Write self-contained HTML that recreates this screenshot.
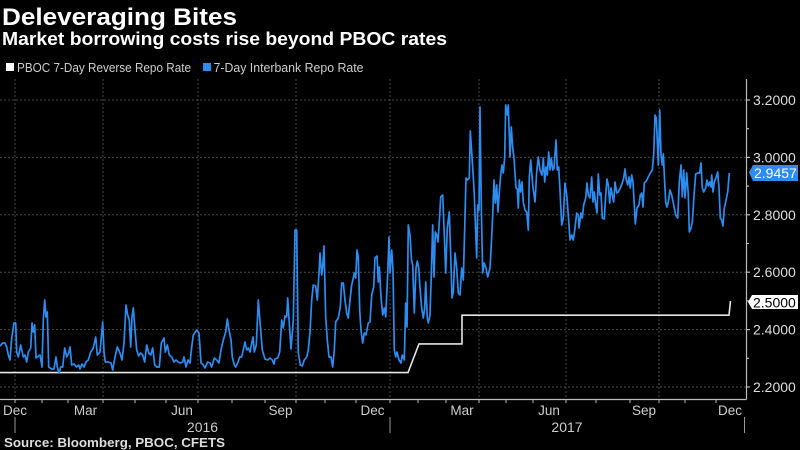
<!DOCTYPE html>
<html>
<head>
<meta charset="utf-8">
<style>
html,body{margin:0;padding:0;background:#000;}
body{width:800px;height:450px;overflow:hidden;}
svg{display:block;}
text{font-family:"Liberation Sans",sans-serif;}
</style>
</head>
<body>
<svg width="800" height="450" viewBox="0 0 800 450" xmlns="http://www.w3.org/2000/svg">
<rect x="0" y="0" width="800" height="450" fill="#000"/>

<!-- Title -->
<text x="2" y="25" font-size="24" font-weight="bold" fill="#fff" textLength="235" lengthAdjust="spacingAndGlyphs">Deleveraging Bites</text>
<text x="2" y="45" font-size="18" font-weight="bold" fill="#fff" textLength="445" lengthAdjust="spacingAndGlyphs">Market borrowing costs rise beyond PBOC rates</text>

<!-- Legend -->
<rect x="6" y="63" width="8" height="8" fill="#fff"/>
<text x="17" y="72" font-size="12.5" fill="#ccc" textLength="174" lengthAdjust="spacingAndGlyphs">PBOC 7-Day Reverse Repo Rate</text>
<rect x="203" y="63" width="8" height="8" fill="#2d8cf0"/>
<text x="213.5" y="72" font-size="12.5" fill="#ccc" textLength="150" lengthAdjust="spacingAndGlyphs">7-Day Interbank Repo Rate</text>

<!-- Horizontal gridlines -->
<g stroke="#4a4a4a" stroke-width="1" stroke-dasharray="2,2">
<line x1="0" y1="100" x2="746" y2="100"/>
<line x1="0" y1="157.4" x2="746" y2="157.4"/>
<line x1="0" y1="214.8" x2="746" y2="214.8"/>
<line x1="0" y1="272.2" x2="746" y2="272.2"/>
<line x1="0" y1="329.6" x2="746" y2="329.6"/>
<line x1="0" y1="387" x2="746" y2="387"/>
</g>
<!-- Vertical gridlines -->
<g stroke="#4a4a4a" stroke-width="1" stroke-dasharray="2,2">
<line x1="15" y1="79" x2="15" y2="399"/>
<line x1="103" y1="79" x2="103" y2="399"/>
<line x1="198" y1="79" x2="198" y2="399"/>
<line x1="296" y1="79" x2="296" y2="399"/>
<line x1="390" y1="79" x2="390" y2="399"/>
<line x1="479" y1="79" x2="479" y2="399"/>
<line x1="566" y1="79" x2="566" y2="399"/>
<line x1="659" y1="79" x2="659" y2="399"/>
</g>

<!-- Axes -->
<g stroke="#bbb" stroke-width="1.2">
<line x1="0" y1="399.5" x2="746.5" y2="399.5"/>
<line x1="746.5" y1="79" x2="746.5" y2="399.5"/>
</g>
<!-- Right axis ticks -->
<g stroke="#bbb" stroke-width="1.2">
<line x1="746" y1="100" x2="750" y2="100"/>
<line x1="746" y1="157.4" x2="750" y2="157.4"/>
<line x1="746" y1="214.8" x2="750" y2="214.8"/>
<line x1="746" y1="272.2" x2="750" y2="272.2"/>
<line x1="746" y1="329.6" x2="750" y2="329.6"/>
<line x1="746" y1="387" x2="750" y2="387"/>
<line x1="746" y1="128.7" x2="749" y2="128.7"/>
<line x1="746" y1="186.1" x2="749" y2="186.1"/>
<line x1="746" y1="243.5" x2="749" y2="243.5"/>
<line x1="746" y1="300.9" x2="749" y2="300.9"/>
<line x1="746" y1="358.3" x2="749" y2="358.3"/>
</g>
<!-- Bottom ticks -->
<g stroke="#bbb" stroke-width="1">
<line x1="15" y1="399.5" x2="15" y2="403"/>
<line x1="42" y1="399.5" x2="42" y2="403"/>
<line x1="68" y1="399.5" x2="68" y2="403"/>
<line x1="103" y1="399.5" x2="103" y2="403"/>
<line x1="135" y1="399.5" x2="135" y2="403"/>
<line x1="166" y1="399.5" x2="166" y2="403"/>
<line x1="198" y1="399.5" x2="198" y2="403"/>
<line x1="232" y1="399.5" x2="232" y2="403"/>
<line x1="265" y1="399.5" x2="265" y2="403"/>
<line x1="296" y1="399.5" x2="296" y2="403"/>
<line x1="325" y1="399.5" x2="325" y2="403"/>
<line x1="356" y1="399.5" x2="356" y2="403"/>
<line x1="390" y1="399.5" x2="390" y2="403"/>
<line x1="418" y1="399.5" x2="418" y2="403"/>
<line x1="446" y1="399.5" x2="446" y2="403"/>
<line x1="479" y1="399.5" x2="479" y2="403"/>
<line x1="506" y1="399.5" x2="506" y2="403"/>
<line x1="533" y1="399.5" x2="533" y2="403"/>
<line x1="566" y1="399.5" x2="566" y2="403"/>
<line x1="596" y1="399.5" x2="596" y2="403"/>
<line x1="630" y1="399.5" x2="630" y2="403"/>
<line x1="659" y1="399.5" x2="659" y2="403"/>
<line x1="685" y1="399.5" x2="685" y2="403"/>
<line x1="716" y1="399.5" x2="716" y2="403"/>
</g>
<!-- Year separators -->
<g stroke="#999" stroke-width="1">
<line x1="15" y1="417" x2="15" y2="433"/>
<line x1="390" y1="417" x2="390" y2="433"/>
<line x1="744.5" y1="417" x2="744.5" y2="433"/>
</g>

<!-- Month labels -->
<g font-size="13.5" fill="#ccc" text-anchor="middle">
<text x="15" y="415">Dec</text>
<text x="85.5" y="415">Mar</text>
<text x="182" y="415">Jun</text>
<text x="280.5" y="415">Sep</text>
<text x="372.5" y="415">Dec</text>
<text x="462" y="415">Mar</text>
<text x="549" y="415">Jun</text>
<text x="644" y="415">Sep</text>
<text x="730" y="415">Dec</text>
</g>
<g font-size="14" fill="#ccc" text-anchor="middle">
<text x="202.5" y="432">2016</text>
<text x="567" y="432">2017</text>
</g>

<!-- Right axis labels -->
<g font-size="14" fill="#ddd">
<text x="753" y="105">3.2000</text>
<text x="753" y="162.4">3.0000</text>
<text x="753" y="219.8">2.8000</text>
<text x="753" y="277.2">2.6000</text>
<text x="753" y="334.6">2.4000</text>
<text x="753" y="392">2.2000</text>
</g>

<!-- PBOC line -->
<polyline fill="none" stroke="#e6e6e6" stroke-width="1.6" stroke-linejoin="miter"
points="0,372.6 408,372.6 419,343.9 462,343.9 462,315.2 729,315.2 730.5,301"/>

<!-- Interbank line -->
<polyline fill="none" stroke="#2d8cf0" stroke-width="1.7" stroke-linejoin="round"
points="0,346 2.7,343 5,343 6.7,347 8.3,355 10,360 11.7,338 14,323 15.7,323 16.7,352 18.3,357 20.7,345 23.3,357 25,355 26.7,362 28.3,352 30.7,348 32,323 33.3,332 34.7,325 36,358 37.3,357 40,355 42,367 43.3,320 44.7,300 46,317 47.3,312 48.7,367 51.7,369 54,369 56,357 57.3,367 59,373 60.7,367 62.7,367 64.7,348 66.7,357 68.7,353 70,347 71.7,365 74,364 76.7,367 78.7,365 80,369 82,364 84,367 86,362 88.3,360 90.7,352 93.3,348 95.7,337 97.3,355 100,352 102.7,322 104,352 105.3,362 108.3,362 111,363 112.7,370 115,357 117.3,347 120,353 122,360 124,343 126,305 127.7,315 129.3,320 130.7,347 132,317 133.3,308 135,330 136.7,350 138.7,356 140.7,353 142.7,355 144.7,362 146.7,345 148.7,353 150.7,355 152.7,348 154.7,365 156.7,367 159.3,367 161.3,343 164,338 165.3,352 167.3,345 169.3,355 171.7,357 174,362 176,360 178.3,362 180,363 182.7,362 184,357 186,367 188,360 190,363 191.7,347 193.3,335 196.7,330 199,333 201,363 203.3,365 205,368 207.7,362 210,363 211.7,367 214.3,358 216.7,360 219,363 221,350 223.3,340 225.7,332 227.3,319 229,330 231,340 232.3,357 234.3,365 235.7,367 237.7,363 239.7,357 241.7,357 243.7,348 245,342 246.7,350 248.3,348 250,352 251,347 253,337 254.3,352 256.3,345 258.3,300 260,322 262.3,350 265,359 267.7,360 270,358 272.3,360 274,364 275,359 277.7,358 279.7,352 281.7,320 283.3,328 285,316 286.7,317 287.7,298 289.3,323 291,349 293.3,320 295,230 296.7,230 298.3,353 300.3,365 302.3,366 304.3,360 306.7,357 308.3,350 310,332 311.7,300 313.3,285 315.7,286 317.3,300 319,273 320,253 321.7,275 322.7,267 324,246 325.7,317 327.3,340 329,357 331,357 332.7,367 334.3,350 335.7,322 338.3,318 340.3,307 341.7,283 343.3,283 345,300 346.7,313 348.3,318 350,300 351.7,285 353.3,278 354.3,273 355.7,278 357,250 358.3,257 359.7,310 361,330 362.7,343 364.3,333 366,335 368.3,323 370,322 371.7,295 373.7,287 375,258 377,256 378.3,282 379.3,267 381,297 382.7,315 384.3,308 385.7,317 387.7,273 389,237 390,273 391.7,250 393,270 394.3,350 395.7,357 397,352 399,360 401,363 402.3,355 404.3,360 405.7,303 407,327 408.3,225 410,235 411.5,260 412.7,265 414.3,313 416,268 417.3,261 418.7,268 420,288 421.7,308 423.3,318 424.7,308 425.7,282 427.3,318 428.3,323 430,315 431.3,275 432.7,225 434,277 435.3,232 436.7,235 438,242 439.3,222 440.7,197 442.7,195 444.3,235 445.7,273 447.3,228 449.3,212 450.7,255 452,298 453.3,292 455,253 456.7,268 458.3,293 460,295 461.7,268 463.3,280 464.7,228 466,178 467.3,180 469.3,178 470.3,131 471.7,152 473.3,177 474.3,195 475.3,222 476.7,258 477.7,205 479,210 480,107 481.3,208 482.7,273 484,263 486,268 487.7,277 490,268 491.3,245 492.7,215 494,180 495.3,203 496.7,185 498,212 499.3,192 500.7,175 502,165 503.3,173 504.7,157 505.7,105 507.3,115 508.3,105 510,157 511.3,127 512.7,148 514,158 516,188 517.3,189 518.3,208 519.3,180 520.7,192 522,182 523.3,202 525,210 526.7,212 528.3,230 529.3,177 530.7,160 532.7,185 535,202 536.7,172 538.3,157 540,170 542,175 543.3,158 544.7,182 546,167 547.3,175 548.7,152 550,170 551.3,158 552.7,170 554,168 556,140 557.3,170 558.7,167 560,190 561.7,225 563.3,218 565,183 566.7,195 568.3,215 570,240 571.7,235 573.3,240 575,228 576.7,213 578.3,215 579,228 581,213 582.3,218 583.7,205 585.7,198 587,183 588.3,195 590,198 591.7,177 593,202 594.3,192 595.7,205 597,213 598.3,174 599.7,195 601,193 602.3,218 604.3,219 605.7,195 607,179 608.3,185 609.7,203 611,188 612.3,195 613.7,202 615,182 616.7,193 618.3,192 620.3,188 622.3,183 623.7,178 625,169 626.3,180 627.7,185 629,177 630.3,188 631.7,175 633,182 634.3,205 635.3,224 637,208 639,205 640.3,195 641.7,193 643,207 644.3,183 646.3,181 648.3,177 650.3,173 652.3,170 653.7,155 655,115 656.3,118 657.3,142 658.3,165 659.7,110 661,155 662.3,165 663.3,154 664.3,175 665.7,202 667,207 668.3,202 670,190 671.7,195 673.7,205 675.7,215 677.7,218 679.3,182 681,165 682.3,197 683.7,170 685,198 686.7,173 688.3,195 689.3,232 691,228 692.3,222 694.3,192 695.7,174 697.7,173 699.7,173 701,163 702.3,188 703.7,192 705.7,188 707,180 708.3,186 709.7,182 711,187 711.7,175 713,192 714.3,182 716.3,177 717.7,172 719,188 720.3,218 721.7,220 723,226 724.3,208 725.7,202 727.7,192 729.3,173"/>

<!-- Value tags -->
<path d="M749,172.5 L753,165 L798,165 L798,181 L753,181 Z" fill="#2d8cf0"/>
<text x="754" y="178" font-size="14" fill="#fff">2.9457</text>
<path d="M748,302 L752,295 L798,295 L798,309 L752,309 Z" fill="#fff"/>
<text x="753" y="307.5" font-size="14" fill="#000">2.5000</text>

<!-- Source -->
<text x="4" y="447" font-size="12.5" font-weight="bold" fill="#ddd" textLength="221" lengthAdjust="spacingAndGlyphs">Source: Bloomberg, PBOC, CFETS</text>
</svg>
</body>
</html>
